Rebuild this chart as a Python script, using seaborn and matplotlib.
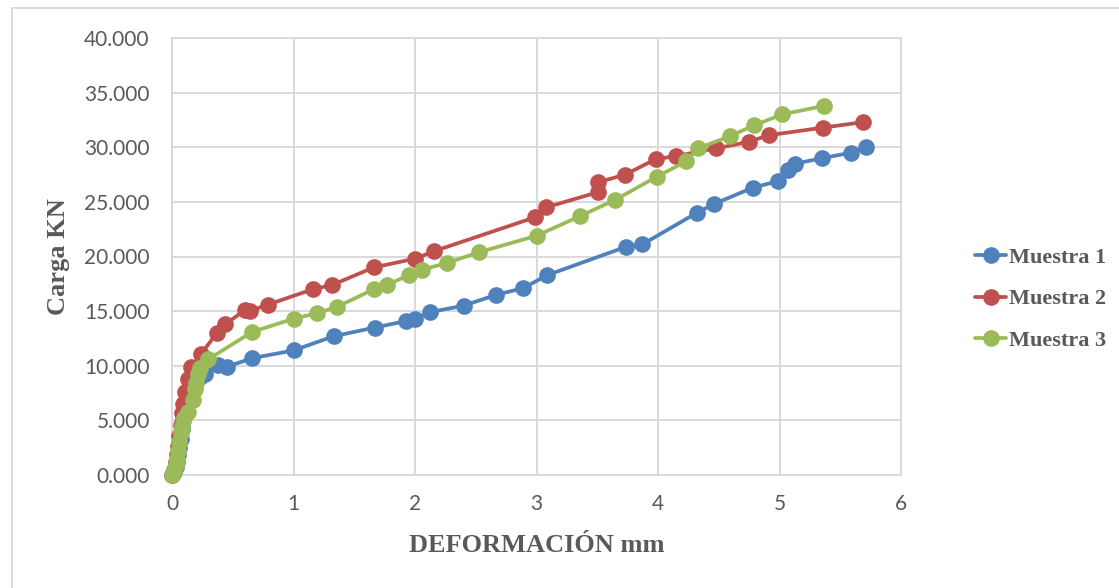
import matplotlib
matplotlib.use("Agg")
import matplotlib.pyplot as plt
from matplotlib.patches import Rectangle
from matplotlib.ticker import FuncFormatter, MultipleLocator
import seaborn as sns
import pandas as pd

# Load–deformation readings for three specimens (deformation in mm, load in kN)
def_m1 = [0.00, 0.02, 0.03, 0.04, 0.05, 0.06, 0.07, 0.08, 0.09, 0.10, 0.12, 0.14,
          0.17, 0.20, 0.23, 0.27, 0.38, 0.45, 0.66, 1.00, 1.33, 1.67, 1.93, 2.00,
          2.12, 2.40, 2.67, 2.89, 3.09, 3.74, 3.87, 4.32, 4.46, 4.78, 4.99, 5.07,
          5.13, 5.35, 5.59, 5.71]
load_m1 = [0.0, 0.3, 0.7, 1.2, 1.8, 2.5, 3.3, 4.2, 5.0, 5.8, 6.6, 7.4,
           8.2, 8.7, 9.0, 9.2, 10.1, 9.9, 10.7, 11.4, 12.7, 13.5, 14.1, 14.3,
           14.9, 15.5, 16.5, 17.1, 18.3, 20.9, 21.1, 24.0, 24.8, 26.3, 26.9, 27.9,
           28.5, 29.0, 29.5, 30.0]

def_m2 = [0.00, 0.02, 0.03, 0.04, 0.05, 0.06, 0.07, 0.08, 0.09, 0.11, 0.13, 0.16,
          0.24, 0.37, 0.44, 0.60, 0.64, 0.79, 1.16, 1.32, 1.66, 2.00, 2.16, 2.99,
          3.08, 3.51, 3.51, 3.73, 3.98, 4.15, 4.48, 4.75, 4.91, 5.36, 5.69]
load_m2 = [0.0, 0.5, 1.2, 1.9, 2.7, 3.6, 4.6, 5.7, 6.5, 7.6, 8.8, 9.9,
           11.1, 13.0, 13.8, 15.1, 15.0, 15.6, 17.0, 17.4, 19.0, 19.8, 20.5, 23.6,
           24.5, 25.9, 26.8, 27.5, 28.9, 29.2, 29.9, 30.5, 31.1, 31.8, 32.3]

def_m3 = [0.00, 0.02, 0.03, 0.04, 0.05, 0.06, 0.07, 0.08, 0.10, 0.13, 0.17, 0.19,
          0.20, 0.21, 0.23, 0.30, 0.66, 1.00, 1.19, 1.36, 1.66, 1.77, 1.95, 2.06,
          2.26, 2.53, 3.00, 3.36, 3.65, 3.99, 4.23, 4.33, 4.59, 4.79, 5.02, 5.37]
load_m3 = [0.0, 0.4, 0.9, 1.5, 2.2, 3.0, 3.8, 4.5, 5.2, 5.8, 6.9, 7.9,
           8.4, 9.2, 9.8, 10.6, 13.1, 14.3, 14.8, 15.4, 17.0, 17.4, 18.3, 18.8,
           19.4, 20.4, 21.9, 23.7, 25.2, 27.3, 28.7, 29.9, 31.0, 32.0, 33.0, 33.8]

series_names = ["Muestra 1", "Muestra 2", "Muestra 3"]
series_colors = ["#4F81BD", "#C0504D", "#9BBB59"]

frames = []
for name, xs, ys in zip(series_names, [def_m1, def_m2, def_m3],
                        [load_m1, load_m2, load_m3]):
    frames.append(pd.DataFrame({"def": xs, "load": ys, "serie": name}))
data = pd.concat(frames, ignore_index=True)

sns.set_theme(style="white")
plt.rcParams["font.family"] = ["Lato", "DejaVu Sans"]

fig = plt.figure(figsize=(11.19, 5.88), dpi=100)
ax = fig.add_axes([172 / 1119, 1 - 475 / 588, (901 - 172) / 1119, (475 - 38) / 588])

# Light outer frame of the chart area
fig.patches.append(Rectangle((12 / 1119, -0.05), 1.2, 1 - 8 / 588 + 0.05,
                             transform=fig.transFigure, fill=False,
                             edgecolor="#D9D9D9", linewidth=1.3, zorder=0))

sns.lineplot(data=data, x="def", y="load", hue="serie", palette=series_colors,
             hue_order=series_names, sort=False, estimator=None,
             marker="o", markersize=12, markeredgewidth=0, linewidth=2.7,
             ax=ax, legend=True, clip_on=False, zorder=3)

ax.set_xlim(0, 6)
ax.set_ylim(0, 40)
ax.xaxis.set_major_locator(MultipleLocator(1))
ax.yaxis.set_major_locator(MultipleLocator(5))
ax.yaxis.set_major_formatter(FuncFormatter(lambda v, p: f"{v:.3f}"))
ax.xaxis.set_major_formatter(FuncFormatter(lambda v, p: f"{v:.0f}"))
ax.grid(True, color="#D9D9D9", linewidth=1.4)
ax.set_axisbelow(True)
for sp in ax.spines.values():
    sp.set_color("#D9D9D9")
    sp.set_linewidth(1.4)
ax.tick_params(axis="both", length=0, labelsize=15, labelcolor="#595959")
ax.tick_params(axis="y", pad=16)
ax.tick_params(axis="x", pad=14)

label_font = dict(family="Liberation Serif", weight="bold", size=19, color="#595959")
ax.set_xlabel("DEFORMACIÓN mm", labelpad=14, **label_font)
ax.set_ylabel("Carga KN", labelpad=10, **label_font)

handles, labels = ax.get_legend_handles_labels()
ax.get_legend().remove()
leg = fig.legend(handles, labels, loc="center left",
                 bbox_to_anchor=(975 / 1119, 1 - 299 / 588), frameon=False,
                 handlelength=1.4, handletextpad=0.15, labelspacing=0.95,
                 borderpad=0, borderaxespad=0,
                 prop=dict(family="Liberation Serif", weight="bold", size=16))
for t in leg.get_texts():
    t.set_color("#595959")

fig.savefig("out.png", dpi=100)
